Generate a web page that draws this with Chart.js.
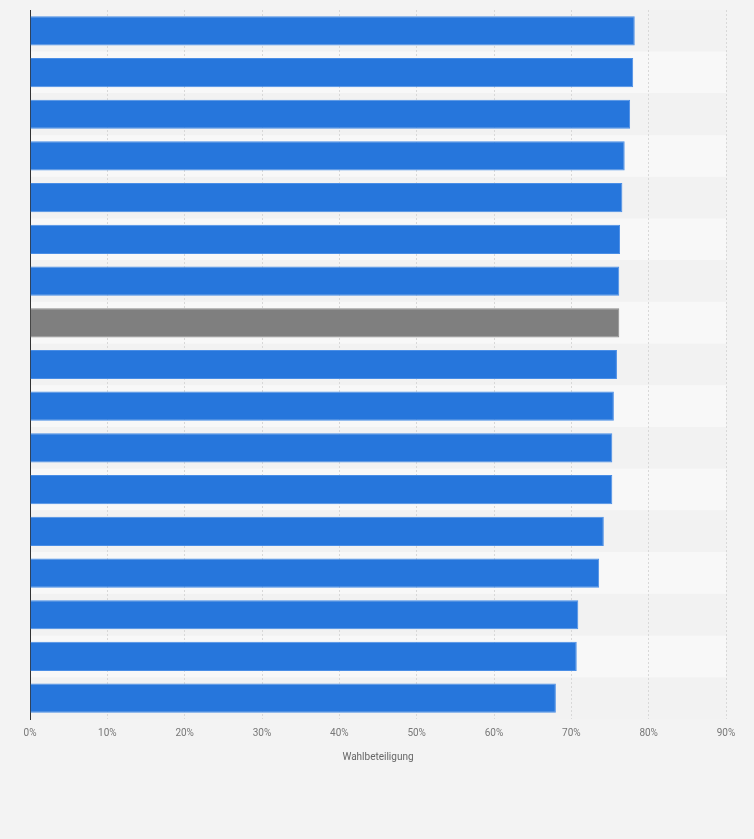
<!DOCTYPE html>
<html><head><meta charset="utf-8">
<script src="https://cdn.jsdelivr.net/npm/chart.js@4"></script>
<style>html,body{margin:0;background:#f3f3f3}#w{width:754px;height:839px}</style>
</head><body><div id="w"><canvas id="c"></canvas></div>
<script>
const categories = ["1","2","3","4","5","6","7","8","9","10","11","12","13","14","15","16","17"];
const values = [78.2,78.0,77.6,76.9,76.6,76.3,76.2,76.2,75.9,75.5,75.3,75.3,74.2,73.6,70.9,70.7,68.0];
const highlightIndex = 7;
const xTicks = [0,10,20,30,40,50,60,70,80,90];

const stripes = {
  id:'stripes',
  beforeDraw(chart){
    const {ctx, chartArea:a, scales:{y}} = chart;
    ctx.save();
    categories.forEach((c,i)=>{
      const yc = y.getPixelForValue(i);
      const h = (a.bottom-a.top)/categories.length;
      ctx.fillStyle = i%2 ? '#f8f8f8' : '#f2f2f2';
      ctx.fillRect(a.left, yc-h/2, a.right-a.left, h);
    });
    ctx.restore();
  }
};

new Chart(document.getElementById('c'), {
  type:'bar',
  data:{labels:categories, datasets:[{
    data:values,
    backgroundColor:values.map((v,i)=>i===highlightIndex?'#7f7f7f':'#2676dc'),
    borderColor:values.map((v,i)=>i===highlightIndex?'#8c8c8c':'#4a8ee6'),
    borderWidth:1,
    barPercentage:0.7, categoryPercentage:1
  }]},
  options:{
    indexAxis:'y', responsive:true, maintainAspectRatio:false, animation:false,
    layout:{padding:{left:0,right:28,top:10,bottom:72}},
    plugins:{legend:{display:false},tooltip:{enabled:false}},
    scales:{
      x:{min:0,max:90,
        afterBuildTicks(s){s.ticks=xTicks.map(v=>({value:v}));},
        ticks:{callback:v=>v+'%',color:'#777',font:{family:'Roboto',size:10},padding:8},
        grid:{color:'#d8d8d8',borderDash:[2,2],drawTicks:false},
        border:{display:false,dash:[2,2]},
        title:{display:true,text:'Wahlbeteiligung',color:'#666',font:{family:'Roboto',size:10},padding:{top:4}}
      },
      y:{ticks:{display:false},grid:{display:false,drawTicks:false},border:{display:true,color:'#333',width:1},afterFit(s){s.width=30;}}
    }
  },
  plugins:[stripes]
});
</script></body></html>
